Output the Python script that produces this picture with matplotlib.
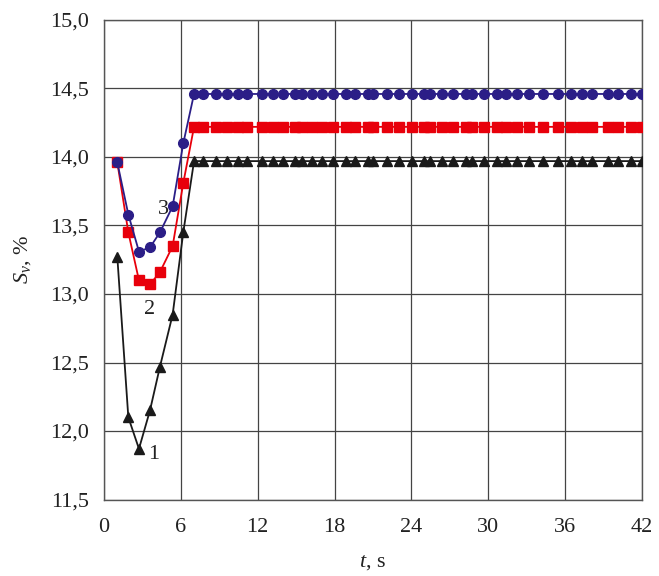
import matplotlib
matplotlib.use("Agg")
import matplotlib.pyplot as plt

# temps (s)
t = [1.04, 1.90, 2.73, 3.59, 4.37, 5.36, 6.19,
     7.03, 7.70, 8.74, 9.58, 10.48, 11.14, 12.31, 13.17, 14.00, 14.91,
     15.43, 16.21, 16.99, 17.90, 18.89, 19.59, 20.63, 21.02, 22.12, 23.05,
     24.02, 24.98, 25.45, 26.36, 27.27, 28.26, 28.70, 29.66, 30.70, 31.38,
     32.22, 33.20, 34.27, 35.42, 36.46, 37.29, 38.12, 39.32, 40.15, 41.15, 42.00]

# courbe 1 (triangles noirs)
s1 = [13.27, 12.10, 11.87, 12.15, 12.47, 12.85, 13.45,
      13.97, 13.97, 13.97, 13.97, 13.97, 13.97, 13.97, 13.97, 13.97, 13.97,
      13.97, 13.97, 13.97, 13.97, 13.97, 13.97, 13.97, 13.97, 13.97, 13.97,
      13.97, 13.97, 13.97, 13.97, 13.97, 13.97, 13.97, 13.97, 13.97, 13.97,
      13.97, 13.97, 13.97, 13.97, 13.97, 13.97, 13.97, 13.97, 13.97, 13.97, 13.97]

# courbe 2 (carres rouges)
s2 = [13.96, 13.45, 13.10, 13.07, 13.16, 13.35, 13.81,
      14.22, 14.22, 14.22, 14.22, 14.22, 14.22, 14.22, 14.22, 14.22, 14.22,
      14.22, 14.22, 14.22, 14.22, 14.22, 14.22, 14.22, 14.22, 14.22, 14.22,
      14.22, 14.22, 14.22, 14.22, 14.22, 14.22, 14.22, 14.22, 14.22, 14.22,
      14.22, 14.22, 14.22, 14.22, 14.22, 14.22, 14.22, 14.22, 14.22, 14.22, 14.22]

# courbe 3 (cercles bleus)
s3 = [13.96, 13.58, 13.31, 13.34, 13.45, 13.64, 14.10,
      14.46, 14.46, 14.46, 14.46, 14.46, 14.46, 14.46, 14.46, 14.46, 14.46,
      14.46, 14.46, 14.46, 14.46, 14.46, 14.46, 14.46, 14.46, 14.46, 14.46,
      14.46, 14.46, 14.46, 14.46, 14.46, 14.46, 14.46, 14.46, 14.46, 14.46,
      14.46, 14.46, 14.46, 14.46, 14.46, 14.46, 14.46, 14.46, 14.46, 14.46, 14.46]

xticks = [0, 6, 12, 18, 24, 30, 36, 42]
yticks = [11.5, 12.0, 12.5, 13.0, 13.5, 14.0, 14.5, 15.0]
ytick_labels = ["11,5", "12,0", "12,5", "13,0", "13,5", "14,0", "14,5", "15,0"]

# etiquettes des courbes
curve_labels = ["1", "2", "3"]
label_t = [3.90, 3.54, 4.63]
label_s = [11.83, 12.89, 13.62]

plt.rcParams["font.family"] = "serif"
plt.rcParams["font.serif"] = ["Liberation Serif"]
plt.rcParams["mathtext.fontset"] = "custom"
plt.rcParams["mathtext.rm"] = "Liberation Serif"
plt.rcParams["mathtext.it"] = "Liberation Serif:italic"

fig = plt.figure(figsize=(6.59, 5.76), dpi=100)
ax = fig.add_axes([0.1578, 0.1328, 0.8164, 0.8325])

ax.plot(t, s1, color="#1a1a1a", lw=1.3, marker="^", ms=7.5, zorder=3)
ax.plot(t, s2, color="#e8000b", lw=1.3, marker="s", ms=7, zorder=3)
ax.plot(t, s3, color="#2b1e87", lw=1.3, marker="o", ms=7, zorder=3)

for lab, x, y in zip(curve_labels, label_t, label_s):
    ax.text(x, y, lab, fontsize=16, ha="center", va="center", color="#222222")

ax.set_xlim(0, 42)
ax.set_ylim(11.5, 15.0)
ax.set_xticks(xticks)
ax.set_yticks(yticks)
ax.set_yticklabels(ytick_labels)
ax.tick_params(length=0, labelsize=16, colors="#222222")
ax.tick_params(axis="x", pad=13)
ax.tick_params(axis="y", pad=11)
ax.grid(True, color="#444444", lw=0.9, zorder=1)
for sp in ax.spines.values():
    sp.set_color("#555555")
    sp.set_linewidth(1.0)

ax.set_xlabel(r"$\it{t}$, s", fontsize=16, labelpad=12, color="#222222")
ax.set_ylabel(r"$\it{S}_{\it{v}}$, %", fontsize=16, labelpad=12, color="#222222")

fig.savefig("out.png", dpi=100)
